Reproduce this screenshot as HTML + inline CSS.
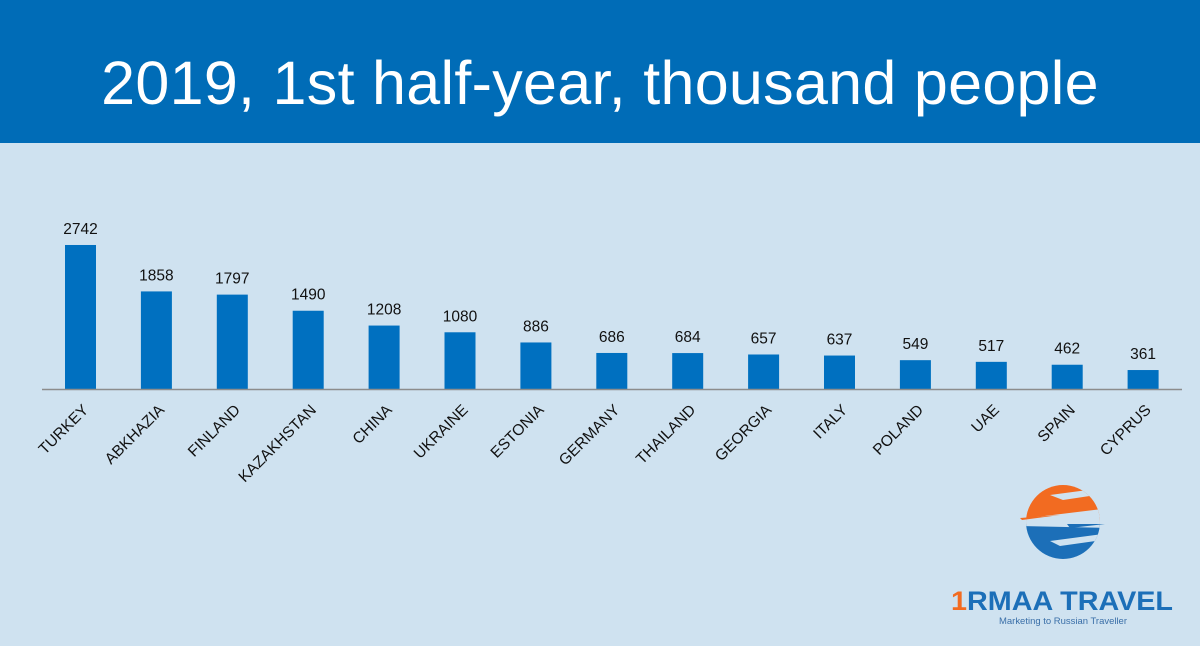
<!DOCTYPE html>
<html><head><style>
body{margin:0;width:1200px;height:646px;background:#cfe2f0;font-family:"Liberation Sans",Arial,sans-serif;position:relative;overflow:hidden}
.hdr{position:absolute;left:0;top:0;width:1200px;height:143px;background:#006cb7}
.hdr div{position:absolute;top:48px;width:1200px;text-align:center;color:#fff;font-size:61px;line-height:70px;letter-spacing:0.3px}
</style></head><body>
<div class="hdr"><div>2019, 1st half-year, thousand people</div></div>
<svg width="1200" height="646" style="position:absolute;left:0;top:0">
<g id="bars"></g>
<line x1="42" y1="389.5" x2="1182" y2="389.5" stroke="#8c8c8c" stroke-width="1.5"/>
<defs><clipPath id="c"><circle cx="1063" cy="522" r="37"/></clipPath></defs>
<g clip-path="url(#c)">
<rect x="1020" y="480" width="90" height="44" fill="#f26b21"/>
<rect x="1020" y="524" width="90" height="44" fill="#1c6fb8"/>
<polygon points="1050,495 1110,487 1110,493 1063,500" fill="#cfe2f0"/>
<polygon points="1020,519 1110,508 1110,528 1020,526" fill="#cfe2f0"/>
<polygon points="1050,541 1110,533 1110,539 1060,546" fill="#cfe2f0"/>
</g>
<polygon points="1020,518 1060,515 1022,520" fill="#f26b21"/>
<polygon points="1067,524 1105,524 1070,528" fill="#1c6fb8"/>
<text x="951" y="610" font-size="27" font-weight="bold" fill="#1c6fb8" textLength="222" lengthAdjust="spacingAndGlyphs"><tspan fill="#f26b21">1</tspan>RMAA TRAVEL</text>
<text x="999" y="624" font-size="9.5" fill="#3a6fa8" textLength="128" lengthAdjust="spacingAndGlyphs">Marketing to Russian Traveller</text>
</svg>
<script>
var d=[["TURKEY",2742],["ABKHAZIA",1858],["FINLAND",1797],["KAZAKHSTAN",1490],["CHINA",1208],["UKRAINE",1080],["ESTONIA",886],["GERMANY",686],["THAILAND",684],["GEORGIA",657],["ITALY",637],["POLAND",549],["UAE",517],["SPAIN",462],["CYPRUS",361]];
var s="";
d.forEach(function(e,i){var x=65+i*75.9,h=e[1]*0.05252,t=389-h,c=x+15.5;
s+='<rect x="'+x+'" y="'+t+'" width="31" height="'+h+'" fill="#0070c0"/>';
s+='<text x="'+c+'" y="'+(t-11)+'" font-size="15.5" fill="#111" text-anchor="middle">'+e[1]+'</text>';
s+='<text transform="translate('+(c+1)+',403) rotate(-45)" font-size="15.5" fill="#111" text-anchor="end" dy="11">'+e[0]+'</text>';});
document.getElementById("bars").innerHTML=s;
</script>
</body></html>
